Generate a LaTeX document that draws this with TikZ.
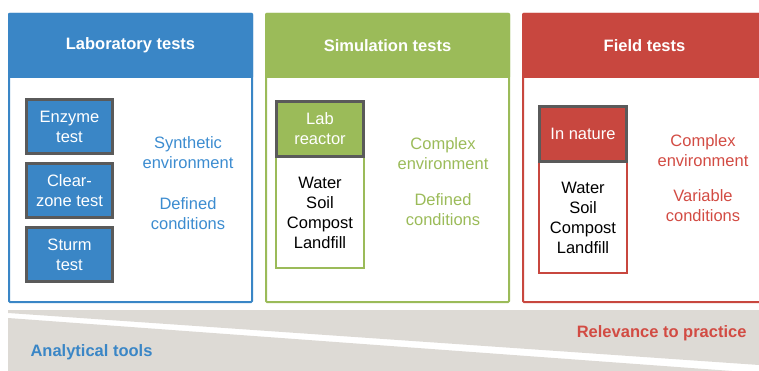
\documentclass[tikz,border=0pt]{standalone}
\usepackage{fontspec}
\setmainfont{Liberation Sans}
\usepackage{xcolor}
\usepackage{tikz}
\usetikzlibrary{positioning,backgrounds}
\definecolor{labblue}{HTML}{3A86C6}
\definecolor{labtext}{HTML}{3C8CD0}
\definecolor{simgreen}{HTML}{9BBB59}
\definecolor{fieldred}{HTML}{C8473F}
\definecolor{fieldtext}{HTML}{D24B43}
\definecolor{framegray}{HTML}{5A5A5A}
\definecolor{bandgray}{HTML}{DDDAD5}
\tikzset{every node/.style={font=\fontsize{16.5}{20}\selectfont}}

\begin{document}
\begin{tikzpicture}[
    x=1pt, y=-1pt,
    node distance=12pt,
    panel/.style={rectangle, draw=#1, line width=2pt, inner sep=0pt, minimum width=243pt, minimum height=288pt, rounded corners=1pt},
    header/.style={rectangle, fill=#1, inner sep=0pt, outer sep=0pt, rounded corners=1pt, minimum width=245pt, minimum height=65pt, text=white, font=\fontsize{16.5}{20}\selectfont\bfseries},
    testbox/.style={rectangle, draw=framegray, line width=3pt, fill=labblue, text=white, align=center, inner sep=0pt, minimum width=86pt, minimum height=54pt},
    samplehead/.style={rectangle, draw=framegray, line width=3pt, fill=#1, text=white, align=center, inner sep=0pt, minimum width=87pt, minimum height=55pt},
    media/.style={rectangle, draw=#1, line width=2pt, fill=white, align=center, inner sep=0pt, minimum width=88pt, minimum height=111pt},
    note/.style={text=#1, align=center},
    bandtext/.style={text=#1, font=\fontsize{16.5}{20}\selectfont\bfseries}
]
\useasboundingbox (0,0) rectangle (759,371);
\clip (0,0) rectangle (759,371);

% panels
\node (blue) [panel=labblue, anchor=north west] at (8,13) {};
\node (green) [panel=simgreen, right=12pt of blue] {};
\node (red) [panel=fieldred, right=12pt of green] {};

\node (labhead) [header=labblue, anchor=north west] at (blue.north west) {Laboratory tests};
\node (simhead) [header=simgreen, anchor=north west] at (green.north west) {Simulation tests};
\node (fieldhead) [header=fieldred, anchor=north west] at (red.north west) {Field tests};

% laboratory
\node (enzyme) [testbox, below right=85pt and 17pt of blue.north west] {Enzyme\\test};
\node (clearzone) [testbox, below=7pt of enzyme] {Clear-\\zone test};
\node (sturm) [testbox, below=7pt of clearzone] {Sturm\\test};

\node (labenv) [note=labtext] at (188,153) {Synthetic\\environment};
\node (labcond) [note=labtext] at (188,214) {Defined\\conditions};

% simulation
\node (reactor) [samplehead=simgreen, below right=87pt and 10pt of green.north west] {Lab\\reactor};
\begin{scope}[on background layer]
\node (simmedia) [media=simgreen, below=-2pt of reactor] {Water\\Soil\\Compost\\Landfill};
\end{scope}

\node (simenv) [note=simgreen] at (443,153.5) {Complex\\environment};
\node (simcond) [note=simgreen] at (443,210) {Defined\\conditions};

% field
\node (nature) [samplehead=fieldred, below right=92pt and 16pt of red.north west] {In nature};
\begin{scope}[on background layer]
\node (fieldmedia) [media=fieldred, below=-2pt of nature] {Water\\Soil\\Compost\\Landfill};
\end{scope}

\node (fieldenv) [note=fieldtext] at (703,151) {Complex\\environment};
\node (fieldcond) [note=fieldtext] at (703,206) {Variable\\conditions};

% bottom band
\fill[bandgray] (8,310) -- (759,310) -- (759,365) -- (8,313) -- cycle;
\fill[bandgray] (8,318) -- (732,371) -- (8,371) -- cycle;

\node (relevance) [bandtext=fieldtext, anchor=east] at (750,333) {Relevance to practice};
\node (analytic) [bandtext=labblue, anchor=west] at (27,352) {Analytical tools};

\end{tikzpicture}
\end{document}
